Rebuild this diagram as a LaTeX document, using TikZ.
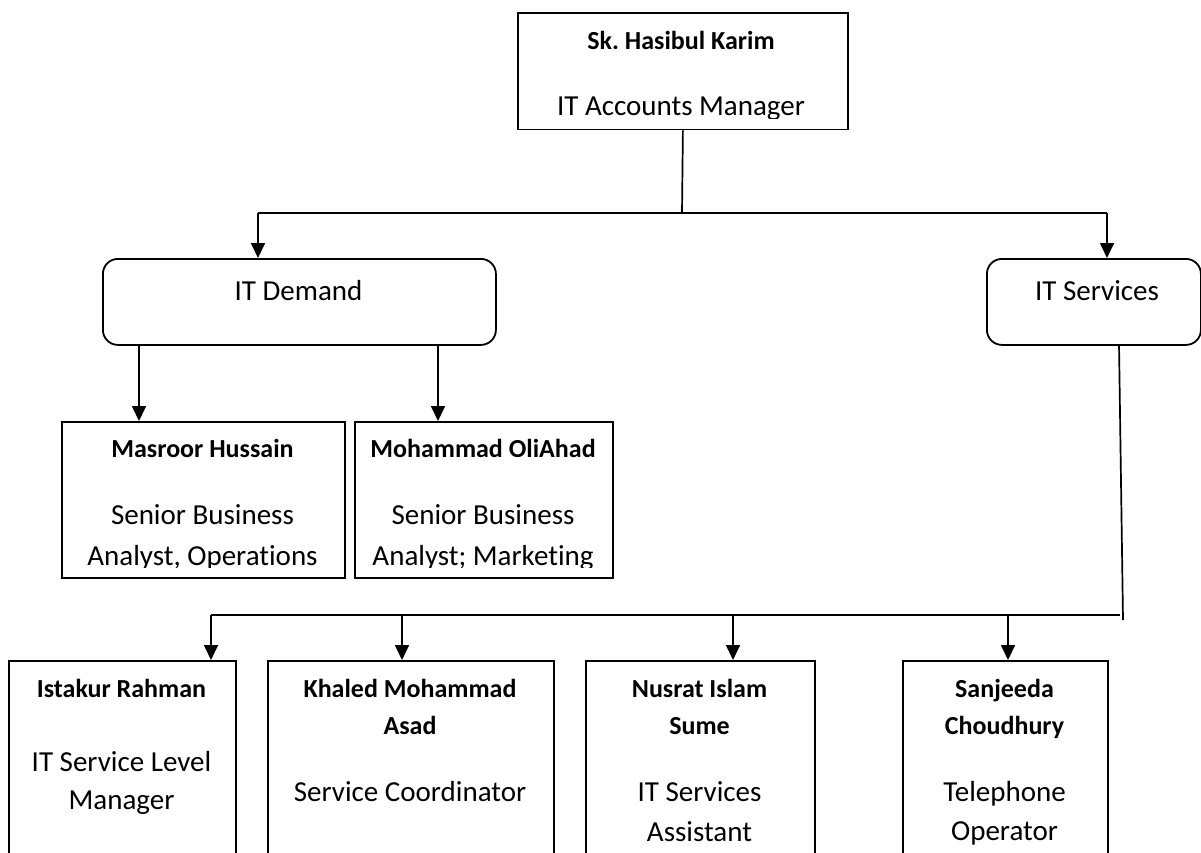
\documentclass[tikz,border=0pt]{standalone}
\usepackage{fontspec}
\setmainfont{Carlito}[Ligatures=NoCommon]
\usetikzlibrary{arrows.meta}
\frenchspacing
\begin{document}
\begin{tikzpicture}[x=1pt,y=-1pt,
  box/.style={draw,line width=1.8pt,inner sep=0pt,anchor=north west},
  rbox/.style={box,rounded corners=15pt},
  link/.style={line width=1.7pt},
  arr/.style={link,-{Triangle[length=15pt,width=14pt]}},
  nm/.style={font=\fontsize{26}{31}\selectfont\bfseries,anchor=base,inner sep=0pt},
  rl/.style={font=\fontsize{29}{35}\selectfont,anchor=base,inner sep=0pt},
]
\useasboundingbox (0,0) rectangle (1201,852);
\clip (0,0) rectangle (1201,852);

% ---------- boxes ----------
\node[box,minimum width=330pt,minimum height=116.5pt] (top) at (517,12) {};
\node[rbox,minimum width=393pt,minimum height=86pt] (demand) at (102,258) {};
\node[rbox,minimum width=214pt,minimum height=86pt] (services) at (986,258) {};
\node[box,minimum width=283pt,minimum height=156pt] (masroor) at (61,421) {};
\node[box,minimum width=258pt,minimum height=156pt] (oliahad) at (354,421) {};
\node[box,minimum width=227pt,minimum height=260pt] (istakur) at (8,660) {};
\node[box,minimum width=286pt,minimum height=260pt] (khaled) at (267,660) {};
\node[box,minimum width=229pt,minimum height=260pt] (nusrat) at (585,660) {};
\node[box,minimum width=205pt,minimum height=260pt] (sanjeeda) at (902,660) {};

% ---------- texts ----------
\node[nm] (topname) at (681,49) {Sk. Hasibul Karim};
\begin{scope}
  \clip (517,12) rectangle (847,118.5);
  \node[rl] (toprole) at (681,115) {IT Accounts Manager};
\end{scope}

\node[rl] (demandtxt) at (298.5,300) {IT Demand};
\node[rl] (servicestxt) at (1097,300) {IT Services};

\node[nm] (masname) at (202.5,457) {Masroor Hussain};
\node[rl] (masrole1) at (202.5,524) {Senior Business};
\node[nm] (olname) at (483,457) {Mohammad OliAhad};
\node[rl] (olrole1) at (483,524) {Senior Business};
\begin{scope}
  \clip (61,421) rectangle (612,567);
  \node[rl] (masrole2) at (202.5,565) {Analyst, Operations};
  \node[rl] (olrole2) at (483,565) {Analyst; Marketing};
\end{scope}

\node[nm] (istname) at (121.5,697) {Istakur Rahman};
\node[rl] (istrole1) at (121.5,771) {IT Service Level};
\node[rl] (istrole2) at (121.5,809) {Manager};

\node[nm] (khname1) at (410,697) {Khaled Mohammad};
\node[nm] (khname2) at (410,734) {Asad};
\node[rl] (khrole) at (410,801) {Service Coordinator};

\node[nm] (nuname1) at (699.5,697) {Nusrat Islam};
\node[nm] (nuname2) at (699.5,734) {Sume};
\node[rl] (nurole1) at (699.5,801) {IT Services};
\node[rl] (nurole2) at (699.5,841) {Assistant};

\node[nm] (saname1) at (1004.5,697) {Sanjeeda};
\node[nm] (saname2) at (1004.5,734) {Choudhury};
\node[rl] (sarole1) at (1004.5,801) {Telephone};
\node[rl] (sarole2) at (1004.5,840) {Operator};

% ---------- connectors ----------
\coordinate (topjoin) at (682,213);
\coordinate (busL) at (258,213);
\coordinate (busR) at (1107,213);
\draw[link] (top.south) -- (topjoin);
\draw[link] (busL) -- (busR);
\draw[arr] (busL) -- (busL |- demand.north);
\draw[arr] (busR) -- (busR |- services.north);

\coordinate (dmL) at (139,344);
\coordinate (dmR) at (438,344);
\draw[arr] (dmL) -- (dmL |- masroor.north);
\draw[arr] (dmR) -- (dmR |- oliahad.north);

\coordinate (svdrop) at (1119,344);
\coordinate (svend) at (1123,620);
\draw[link] (svdrop) -- (svend);

\coordinate (b1) at (211,615);
\coordinate (b2) at (402,615);
\coordinate (b3) at (733,615);
\coordinate (b4) at (1008,615);
\coordinate (bR) at (1120,615);
\draw[link] (bR) -- (b1);
\draw[arr] (b1) -- (b1 |- istakur.north);
\draw[arr] (b2) -- (b2 |- khaled.north);
\draw[arr] (b3) -- (b3 |- nusrat.north);
\draw[arr] (b4) -- (b4 |- sanjeeda.north);
\end{tikzpicture}
\end{document}
